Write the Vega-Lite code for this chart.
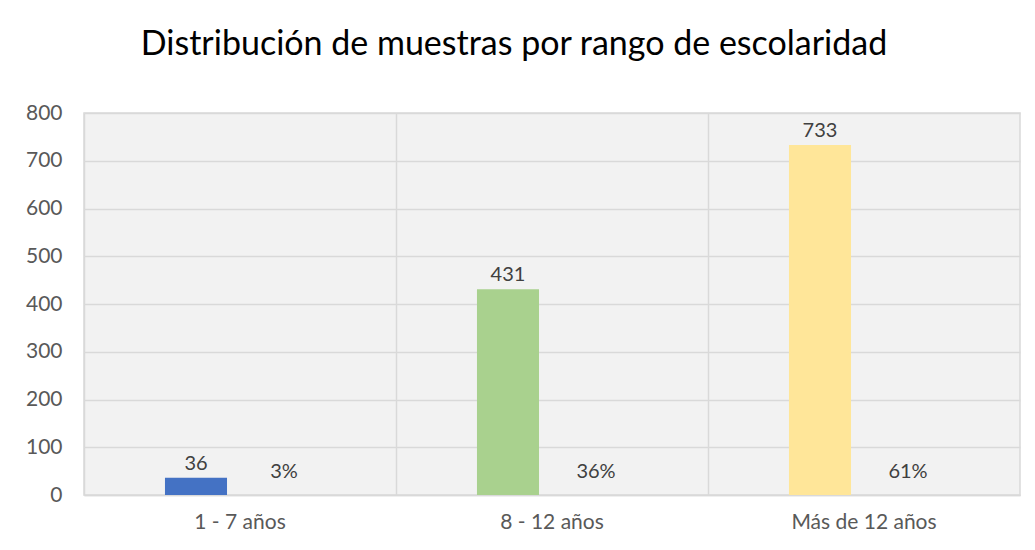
{
  "$schema": "https://vega.github.io/schema/vega-lite/v6.json",
  "width": 936,
  "height": 382,
  "autosize": "none",
  "padding": {"left": 84, "top": 113, "right": 15, "bottom": 55},
  "background": "white",
  "title": {
    "text": "Distribución de muestras por rango de escolaridad",
    "font": "Lato",
    "fontSize": 34,
    "fontWeight": "normal",
    "color": "#000000",
    "anchor": "middle",
    "dx": -38,
    "offset": 40
  },
  "config": {
    "view": {"fill": "#f2f2f2", "stroke": "#d9d9d9", "strokeWidth": 1.5},
    "font": "Lato"
  },
  "data": {
    "values": [
      {"rango": "1 - 7 años", "serie": "Cantidad", "valor": 36, "etiqueta": "36"},
      {"rango": "1 - 7 años", "serie": "Porcentaje", "valor": 0.03, "etiqueta": "3%"},
      {"rango": "8 - 12 años", "serie": "Cantidad", "valor": 431, "etiqueta": "431"},
      {"rango": "8 - 12 años", "serie": "Porcentaje", "valor": 0.36, "etiqueta": "36%"},
      {"rango": "Más de 12 años", "serie": "Cantidad", "valor": 733, "etiqueta": "733"},
      {"rango": "Más de 12 años", "serie": "Porcentaje", "valor": 0.61, "etiqueta": "61%"}
    ]
  },
  "encoding": {
    "x": {
      "field": "rango",
      "type": "nominal",
      "sort": null,
      "title": null,
      "scale": {"paddingInner": 0, "paddingOuter": 0},
      "axis": {
        "labelAngle": 0,
        "labelFontSize": 21,
        "labelColor": "#595959",
        "labelPadding": 16,
        "ticks": false,
        "domainColor": "#d9d9d9",
        "domainWidth": 1.5,
        "grid": true,
        "gridColor": "#d9d9d9",
        "gridWidth": 1.5,
        "bandPosition": 0
      }
    },
    "xOffset": {
      "field": "serie",
      "type": "nominal",
      "scale": {"domain": ["Cantidad", "Porcentaje"], "paddingInner": 0.295, "paddingOuter": 0.92}
    },
    "y": {
      "field": "valor",
      "type": "quantitative",
      "title": null,
      "scale": {"domain": [0, 800]},
      "axis": {
        "values": [0, 100, 200, 300, 400, 500, 600, 700, 800],
        "labelFontSize": 21,
        "labelColor": "#595959",
        "labelPadding": 22,
        "ticks": false,
        "domain": false,
        "gridColor": "#d9d9d9",
        "gridWidth": 1.5
      }
    }
  },
  "layer": [
    {
      "transform": [{"filter": "datum.serie == 'Cantidad'"}],
      "mark": {"type": "bar"},
      "encoding": {
        "color": {
          "field": "rango",
          "type": "nominal",
          "sort": null,
          "legend": null,
          "scale": {"domain": ["1 - 7 años", "8 - 12 años", "Más de 12 años"], "range": ["#4472c4", "#a9d18e", "#ffe699"]}
        }
      }
    },
    {
      "transform": [{"filter": "datum.serie == 'Cantidad'"}],
      "mark": {"type": "text", "baseline": "alphabetic", "dy": -8, "fontSize": 20, "color": "#404040"},
      "encoding": {"text": {"field": "etiqueta"}}
    },
    {
      "transform": [{"filter": "datum.serie == 'Porcentaje'"}],
      "mark": {"type": "text", "baseline": "alphabetic", "dy": -17, "fontSize": 20, "color": "#404040"},
      "encoding": {"text": {"field": "etiqueta"}}
    }
  ]
}
